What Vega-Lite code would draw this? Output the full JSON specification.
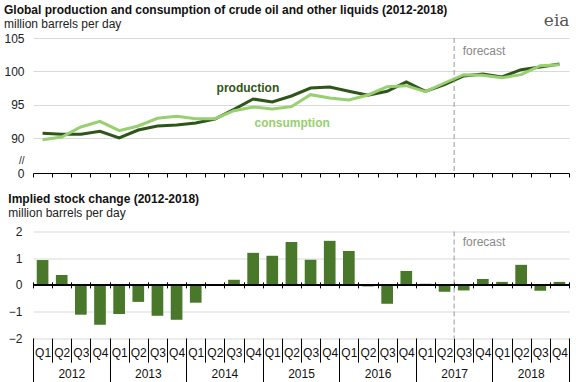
{
  "$schema": "https://vega.github.io/schema/vega-lite/v6.json",
  "padding": {"left": 3, "top": 4, "right": 0, "bottom": 0},
  "title": {"text": "eia", "anchor": "end", "frame": "bounds", "offset": -26, "font": "DejaVu Serif", "fontSize": 17, "fontWeight": "normal", "color": "#555"},
  "config": {
    "view": {"stroke": null},
    "font": "Liberation Sans",
    "axis": {"labelFont": "Liberation Sans", "labelFontSize": 12, "labelColor": "#222", "gridColor": "#d9d9d9", "title": null, "labelOverlap": false},
    "title": {"font": "Liberation Sans", "fontSize": 12, "fontWeight": "bold", "subtitleFont": "Liberation Sans", "subtitleFontSize": 12, "anchor": "start", "frame": "bounds", "color": "#111", "subtitleColor": "#222", "subtitlePadding": 2, "offset": 6}
  },
  "data": {"values": [
    {"q": "2012Q1", "year": "2012", "prod": 90.7, "cons": 89.75, "chg": 0.93},
    {"q": "2012Q2", "year": "2012", "prod": 90.55, "cons": 90.15, "chg": 0.37},
    {"q": "2012Q3", "year": "2012", "prod": 90.55, "cons": 91.65, "chg": -1.12},
    {"q": "2012Q4", "year": "2012", "prod": 91.0, "cons": 92.5, "chg": -1.5},
    {"q": "2013Q1", "year": "2013", "prod": 90.0, "cons": 91.1, "chg": -1.09},
    {"q": "2013Q2", "year": "2013", "prod": 91.2, "cons": 91.8, "chg": -0.64},
    {"q": "2013Q3", "year": "2013", "prod": 91.8, "cons": 92.95, "chg": -1.16},
    {"q": "2013Q4", "year": "2013", "prod": 91.95, "cons": 93.25, "chg": -1.31},
    {"q": "2014Q1", "year": "2014", "prod": 92.25, "cons": 92.9, "chg": -0.67},
    {"q": "2014Q2", "year": "2014", "prod": 92.85, "cons": 92.9, "chg": -0.01},
    {"q": "2014Q3", "year": "2014", "prod": 94.3, "cons": 94.1, "chg": 0.19},
    {"q": "2014Q4", "year": "2014", "prod": 95.85, "cons": 94.65, "chg": 1.2},
    {"q": "2015Q1", "year": "2015", "prod": 95.4, "cons": 94.35, "chg": 1.09},
    {"q": "2015Q2", "year": "2015", "prod": 96.3, "cons": 94.7, "chg": 1.61},
    {"q": "2015Q3", "year": "2015", "prod": 97.5, "cons": 96.5, "chg": 0.94},
    {"q": "2015Q4", "year": "2015", "prod": 97.65, "cons": 96.0, "chg": 1.65},
    {"q": "2016Q1", "year": "2016", "prod": 97.0, "cons": 95.7, "chg": 1.27},
    {"q": "2016Q2", "year": "2016", "prod": 96.4, "cons": 96.45, "chg": -0.06},
    {"q": "2016Q3", "year": "2016", "prod": 97.0, "cons": 97.7, "chg": -0.71},
    {"q": "2016Q4", "year": "2016", "prod": 98.4, "cons": 97.85, "chg": 0.52},
    {"q": "2017Q1", "year": "2017", "prod": 97.0, "cons": 96.95, "chg": 0.04},
    {"q": "2017Q2", "year": "2017", "prod": 98.0, "cons": 98.25, "chg": -0.26},
    {"q": "2017Q3", "year": "2017", "prod": 99.3, "cons": 99.5, "chg": -0.21},
    {"q": "2017Q4", "year": "2017", "prod": 99.6, "cons": 99.4, "chg": 0.22},
    {"q": "2018Q1", "year": "2018", "prod": 99.15, "cons": 99.05, "chg": 0.11},
    {"q": "2018Q2", "year": "2018", "prod": 100.25, "cons": 99.5, "chg": 0.75},
    {"q": "2018Q3", "year": "2018", "prod": 100.65, "cons": 100.85, "chg": -0.22},
    {"q": "2018Q4", "year": "2018", "prod": 101.1, "cons": 101.0, "chg": 0.11}
  ]},
  "spacing": 13.5,
  "vconcat": [
    {
      "width": 536,
      "height": 135,
      "title": {"text": "Global production and consumption of crude oil and other liquids (2012-2018)", "subtitle": "million barrels per day", "offset": 1},
      "layer": [
        {
          "mark": {"type": "line", "color": "#2e5618", "strokeWidth": 3},
          "encoding": {
            "x": {"field": "q", "type": "ordinal", "bandPosition": 0.5, "scale": {"type": "band", "paddingInner": 0, "paddingOuter": 0},
                  "axis": {"orient": "bottom", "labels": false, "tickBand": "extent", "tickSize": 4, "tickColor": "#000", "domainColor": "#000", "grid": false}},
            "y": {"field": "prod", "type": "quantitative", "scale": {"domain": [84.75, 105], "nice": false, "zero": false},
                  "axis": {"values": [84.75, 86.6, 90, 95, 100, 105], "labelExpr": "datum.value < 85 ? '0' : datum.value < 87 ? '//' : datum.label", "domain": false, "ticks": false, "labelPadding": 9, "labelOverlap": false, "grid": true,
                           "labelFontSize": {"condition": {"test": "datum.value > 86 && datum.value < 87", "value": 10}, "value": 12},
                           "gridOpacity": {"condition": {"test": "datum.value < 89", "value": 0}, "value": 1}}}
          }
        },
        {
          "mark": {"type": "line", "color": "#98cf70", "strokeWidth": 3},
          "encoding": {
            "x": {"field": "q", "type": "ordinal", "bandPosition": 0.5},
            "y": {"field": "cons", "type": "quantitative",
                  "axis": {"values": [84.75, 86.6, 90, 95, 100, 105], "labelExpr": "datum.value < 85 ? '0' : datum.value < 87 ? '//' : datum.label", "domain": false, "ticks": false, "labelPadding": 9, "labelOverlap": false, "grid": true,
                           "labelFontSize": {"condition": {"test": "datum.value > 86 && datum.value < 87", "value": 10}, "value": 12},
                           "gridOpacity": {"condition": {"test": "datum.value < 89", "value": 0}, "value": 1}}}
          }
        },
        {
          "data": {"values": [{"t": "forecast"}]},
          "mark": {"type": "rule", "color": "#999", "strokeDash": [5, 3]},
          "encoding": {
            "x": {"datum": "2017Q3", "type": "ordinal", "bandPosition": 0},
            "y": {"datum": 105, "type": "quantitative",
                  "axis": {"values": [84.75, 86.6, 90, 95, 100, 105], "labelExpr": "datum.value < 85 ? '0' : datum.value < 87 ? '//' : datum.label", "domain": false, "ticks": false, "labelPadding": 9, "labelOverlap": false, "grid": true,
                           "labelFontSize": {"condition": {"test": "datum.value > 86 && datum.value < 87", "value": 10}, "value": 12},
                           "gridOpacity": {"condition": {"test": "datum.value < 89", "value": 0}, "value": 1}}},
            "y2": {"datum": 84.75}
          }
        },
        {
          "data": {"values": [{"t": "forecast"}]},
          "mark": {"type": "text", "align": "left", "baseline": "middle", "dx": 8.5, "fontSize": 12, "color": "#888"},
          "encoding": {
            "x": {"datum": "2017Q3", "type": "ordinal", "bandPosition": 0},
            "y": {"datum": 103.0, "type": "quantitative",
                  "axis": {"values": [84.75, 86.6, 90, 95, 100, 105], "labelExpr": "datum.value < 85 ? '0' : datum.value < 87 ? '//' : datum.label", "domain": false, "ticks": false, "labelPadding": 9, "labelOverlap": false, "grid": true,
                           "labelFontSize": {"condition": {"test": "datum.value > 86 && datum.value < 87", "value": 10}, "value": 12},
                           "gridOpacity": {"condition": {"test": "datum.value < 89", "value": 0}, "value": 1}}},
            "text": {"field": "t"}
          }
        },
        {
          "data": {"values": [{"t": "production"}]},
          "mark": {"type": "text", "align": "left", "baseline": "alphabetic", "fontSize": 12, "fontWeight": "bold", "color": "#2e5618"},
          "encoding": {
            "x": {"datum": "2014Q2", "type": "ordinal", "bandPosition": 0.59},
            "y": {"datum": 96.9, "type": "quantitative",
                  "axis": {"values": [84.75, 86.6, 90, 95, 100, 105], "labelExpr": "datum.value < 85 ? '0' : datum.value < 87 ? '//' : datum.label", "domain": false, "ticks": false, "labelPadding": 9, "labelOverlap": false, "grid": true,
                           "labelFontSize": {"condition": {"test": "datum.value > 86 && datum.value < 87", "value": 10}, "value": 12},
                           "gridOpacity": {"condition": {"test": "datum.value < 89", "value": 0}, "value": 1}}},
            "text": {"field": "t"}
          }
        },
        {
          "data": {"values": [{"t": "consumption"}]},
          "mark": {"type": "text", "align": "left", "baseline": "alphabetic", "fontSize": 12, "fontWeight": "bold", "color": "#98cf70"},
          "encoding": {
            "x": {"datum": "2014Q4", "type": "ordinal", "bandPosition": 0.57},
            "y": {"datum": 91.6, "type": "quantitative",
                  "axis": {"values": [84.75, 86.6, 90, 95, 100, 105], "labelExpr": "datum.value < 85 ? '0' : datum.value < 87 ? '//' : datum.label", "domain": false, "ticks": false, "labelPadding": 9, "labelOverlap": false, "grid": true,
                           "labelFontSize": {"condition": {"test": "datum.value > 86 && datum.value < 87", "value": 10}, "value": 12},
                           "gridOpacity": {"condition": {"test": "datum.value < 89", "value": 0}, "value": 1}}},
            "text": {"field": "t"}
          }
        }
      ]
    },
    {
      "width": 536,
      "height": 106.67,
      "title": {"text": "Implied stock change (2012-2018)", "subtitle": "million barrels per day", "offset": 6},
      "resolve": {"scale": {"x": "independent"}, "axis": {"x": "independent"}},
      "layer": [
        {
          "mark": {"type": "bar", "color": "#4a782a"},
          "encoding": {
            "x": {"field": "q", "type": "ordinal", "scale": {"paddingInner": 0.39, "paddingOuter": 0.195}, "axis": null},
            "y": {"field": "chg", "type": "quantitative", "scale": {"domain": [-2, 2], "nice": false},
                  "axis": {"values": [-2, -1, 0, 1, 2], "domain": false, "ticks": false, "labelPadding": 11, "labelOverlap": false, "grid": true}}
          }
        },
        {
          "layer": [
            {
              "mark": {"type": "point", "opacity": 0},
              "encoding": {
                "x": {"field": "q", "type": "ordinal", "scale": {"type": "band", "paddingInner": 0, "paddingOuter": 0},
                      "axis": {"orient": "bottom", "tickBand": "extent", "tickSize": 24, "labelPadding": -14.5, "labelExpr": "substring(datum.label, 4)", "domain": false, "tickColor": "#000", "labelColor": "#111", "labelAngle": 0}},
                "y": {"datum": 0, "type": "quantitative", "axis": {"values": [-2, -1, 0, 1, 2], "domain": false, "ticks": false, "labelPadding": 11, "labelOverlap": false, "grid": true}}
              }
            },
            {
              "data": {"values": [{"t": "forecast"}]},
              "mark": {"type": "rule", "color": "#999", "strokeDash": [5, 3]},
              "encoding": {
                "x": {"datum": "2017Q3", "type": "ordinal", "bandPosition": 0},
                "y": {"datum": 2, "type": "quantitative", "axis": {"values": [-2, -1, 0, 1, 2], "domain": false, "ticks": false, "labelPadding": 11, "labelOverlap": false, "grid": true}},
                "y2": {"datum": -2}
              }
            },
            {
              "data": {"values": [{"t": "forecast"}]},
              "mark": {"type": "text", "align": "left", "baseline": "middle", "dx": 8.5, "fontSize": 12, "color": "#888"},
              "encoding": {
                "x": {"datum": "2017Q3", "type": "ordinal", "bandPosition": 0},
                "y": {"datum": 1.61, "type": "quantitative", "axis": {"values": [-2, -1, 0, 1, 2], "domain": false, "ticks": false, "labelPadding": 11, "labelOverlap": false, "grid": true}},
                "text": {"field": "t"}
              }
            }
          ]
        },
        {
          "mark": {"type": "point", "opacity": 0},
          "encoding": {
            "x": {"field": "year", "type": "ordinal", "scale": {"type": "band", "paddingInner": 0, "paddingOuter": 0},
                  "axis": {"orient": "bottom", "tickBand": "extent", "tickSize": 44, "labelPadding": -13.5, "domain": false, "tickColor": "#000", "labelColor": "#111", "labelAngle": 0}},
            "y": {"datum": 0, "type": "quantitative", "axis": {"values": [-2, -1, 0, 1, 2], "domain": false, "ticks": false, "labelPadding": 11, "labelOverlap": false, "grid": true}}
          }
        },
        {
          "mark": {"type": "point", "opacity": 0},
          "encoding": {
            "x": {"field": "q", "type": "ordinal", "scale": {"type": "band", "paddingInner": 0, "paddingOuter": 0},
                  "axis": {"orient": "bottom", "offset": -56.3, "tickBand": "extent", "tickSize": 6, "labels": false, "domain": false, "tickColor": "#000"}},
            "y": {"datum": 0, "type": "quantitative", "axis": {"values": [-2, -1, 0, 1, 2], "domain": false, "ticks": false, "labelPadding": 11, "labelOverlap": false, "grid": true}}
          }
        },
        {
          "mark": {"type": "rule", "color": "#000"},
          "encoding": {"y": {"datum": 0, "type": "quantitative", "axis": {"values": [-2, -1, 0, 1, 2], "domain": false, "ticks": false, "labelPadding": 11, "labelOverlap": false, "grid": true}}}
        }
      ]
    }
  ]
}
